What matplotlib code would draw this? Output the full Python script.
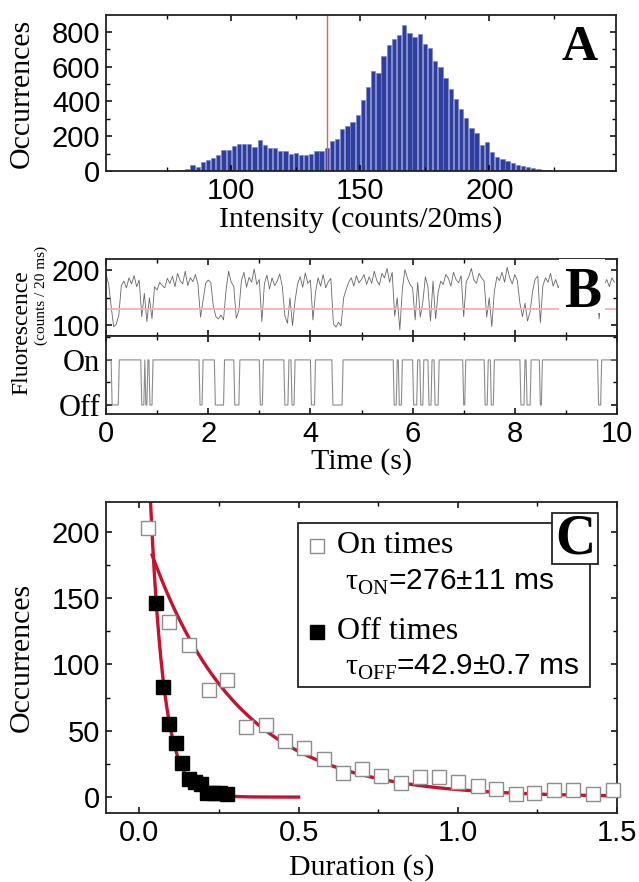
import matplotlib.pyplot as plt
import matplotlib.patches as mpatches
from matplotlib.ticker import MultipleLocator
import numpy as np

plt.rcParams['font.family'] = 'Liberation Sans'
plt.rcParams['font.size'] = 21
plt.rcParams['mathtext.fontset'] = 'custom'
plt.rcParams['mathtext.rm'] = 'Liberation Serif'
plt.rcParams['axes.linewidth'] = 1.3
plt.rcParams['axes.edgecolor'] = '#222222'
for ax_name in ['xtick', 'ytick']:
    plt.rcParams[ax_name + '.direction'] = 'in'
    plt.rcParams[ax_name + '.major.size'] = 4
    plt.rcParams[ax_name + '.minor.size'] = 3
    plt.rcParams[ax_name + '.major.width'] = 1.1
    plt.rcParams[ax_name + '.minor.width'] = 1.0
    plt.rcParams[ax_name + '.major.pad'] = 4
plt.rcParams['xtick.top'] = True
plt.rcParams['ytick.right'] = True

SERIF = 'Liberation Serif'

# A: intensity histogram, bins of 2 counts/20ms (left edges)
bin_left = np.arange(76, 224, 2)
counts = [2, 3, 6, 10, 33, 25, 52, 65, 77, 90,
          119, 119, 144, 157, 155, 153, 140, 176, 147, 134,
          130, 115, 115, 96, 103, 94, 92, 100, 115, 115,
          130, 171, 186, 240, 257, 280, 322, 408, 485, 577,
          561, 663, 724, 757, 782, 839, 795, 772, 787, 728,
          705, 634, 600, 533, 469, 412, 354, 303, 245, 220,
          149, 165, 111, 79, 71, 59, 44, 33, 29, 21,
          15, 10, 6, 3]
threshold_hist = 137

# B: fluorescence trace, one value every 50 ms
trace_step = 0.05
trace = [192, 176, 135, 98, 102, 118, 172, 180, 168, 186,
         175, 190, 170, 182, 116, 158, 107, 150, 112, 170,
         164, 178, 172, 168, 185, 176, 189, 170, 194, 181,
         175, 198, 172, 186, 179, 192, 174, 115, 145, 176,
         182, 178, 135, 116, 112, 119, 110, 165, 198, 178,
         171, 113, 127, 181, 196, 169, 187, 178, 202, 174,
         183, 107, 175, 191, 166, 186, 172, 180, 193, 170,
         118, 104, 150, 100, 145, 175, 188, 169, 195, 176,
         182, 110, 160, 186, 171, 192, 168, 179, 185, 103,
         97, 106, 99, 150, 165, 178, 186, 171, 190, 177,
         183, 192, 174, 188, 176, 198, 181, 173, 194, 186,
         203, 178, 196, 117, 150, 92, 166, 201, 185, 174,
         168, 110, 178, 115, 142, 188, 170, 108, 180, 112,
         160, 180, 174, 192, 185, 171, 196, 183, 177, 190,
         116, 179, 188, 203, 182, 176, 194, 186, 180, 115,
         150, 98, 162, 188, 181, 196, 178, 205, 186, 175,
         192, 181, 140, 116, 140, 108, 125, 163, 184, 189,
         105, 172, 186, 178, 194, 171, 183, 168, 178, 185,
         180, 188, 175, 190, 176, 184, 172, 185, 181, 177,
         186, 172, 179, 112, 168, 174, 183, 170, 186, 178]
threshold_trace = 130

# B: dark (off) periods in seconds
off_start = [0.12, 0.70, 0.78, 0.86, 1.84, 2.13, 2.52, 3.02, 3.50, 3.63,
             4.02, 4.44, 5.64, 5.74, 6.02, 6.15, 6.32, 6.43, 6.99, 7.42,
             7.54, 8.12, 8.23, 8.49, 9.63]
off_end = [0.25, 0.74, 0.81, 0.90, 1.90, 2.31, 2.60, 3.07, 3.57, 3.69,
           4.08, 4.63, 5.69, 5.79, 6.08, 6.21, 6.37, 6.50, 7.03, 7.47,
           7.60, 8.19, 8.30, 8.54, 9.68]

# C: on/off duration histograms
on_dur = [0.028, 0.093, 0.155, 0.217, 0.275, 0.336, 0.397, 0.456, 0.517, 0.579,
          0.640, 0.698, 0.760, 0.820, 0.881, 0.941, 1.001, 1.062, 1.121, 1.182,
          1.240, 1.302, 1.363, 1.424, 1.486]
on_occ = [203, 132, 115, 81, 88, 53, 54, 42, 37, 29,
          18, 21, 16, 10.5, 15, 15, 11, 8, 6, 2,
          3, 5, 5, 2, 5]
off_dur = [0.053, 0.074, 0.093, 0.114, 0.134, 0.155, 0.174, 0.194, 0.213, 0.233,
           0.254, 0.275]
off_occ = [146, 83, 55, 41, 26, 14, 11, 10, 3, 3, 3, 2]

# exponential fits
tau_on, amp_on = 0.276, 211
tau_off, amp_off = 0.0429, 502

W, H = 639, 882
fig = plt.figure(figsize=(W / 100, H / 100), dpi=100)


def box(left, top, right, bottom):
    return [left / W, 1 - bottom / H, (right - left) / W, (bottom - top) / H]


# ---------------- A ----------------
axA = fig.add_axes(box(106, 15, 616, 171))
axA.bar(bin_left + 1, counts, width=1.65, color='#2e3e9e', edgecolor='#7480c8', linewidth=0.4)
axA.axvline(threshold_hist, color='#e0606c', lw=1.0)
axA.set_xlim(51.5, 249)
axA.set_ylim(0, 897)
axA.xaxis.set_major_locator(MultipleLocator(50))
axA.xaxis.set_minor_locator(MultipleLocator(25))
axA.yaxis.set_major_locator(MultipleLocator(200))
axA.yaxis.set_minor_locator(MultipleLocator(100))
axA.set_xlabel('Intensity (counts/20ms)', family=SERIF, fontsize=21.5, va='center')
axA.xaxis.set_label_coords(0.5, -0.314)
axA.set_ylabel('Occurrences', family=SERIF, fontsize=21.5, va='center')
axA.yaxis.set_label_coords(-0.165, 0.5)
axA.text(0.929, 0.79, 'A', transform=axA.transAxes, ha='center', va='center',
         family=SERIF, fontweight='bold', fontsize=36)

# ---------------- B ----------------
axB1 = fig.add_axes(box(106, 259, 617, 336))
axB2 = fig.add_axes(box(106, 336, 617, 414), sharex=axB1)

t_trace = np.arange(len(trace)) * trace_step
axB1.plot(t_trace, trace, color='#666666', lw=0.6)
axB1.axhline(threshold_trace, color='#f4b0b0', lw=1.3)
axB1.set_ylim(81, 220)
axB1.yaxis.set_major_locator(MultipleLocator(100))
axB1.yaxis.set_minor_locator(MultipleLocator(50))
axB1.tick_params(labelbottom=False)
axB1.add_patch(mpatches.Rectangle((0.886, 0.30), 0.091, 0.70, transform=axB1.transAxes,
                                  facecolor='white', edgecolor='none', zorder=3))
axB1.text(0.932, 0.56, 'B', transform=axB1.transAxes, ha='center', va='center',
          family=SERIF, fontweight='bold', fontsize=40, zorder=4)

t_state = np.arange(0, 10.0001, 0.02)
state = np.ones_like(t_state)
for a, b in zip(off_start, off_end):
    state[(t_state >= a) & (t_state <= b)] = 0
axB2.plot(t_state, state, color='#8c8c8c', lw=0.8)
axB2.set_ylim(-0.2, 1.53)
axB2.set_yticks([0, 1])
axB2.set_yticklabels(['Off', 'On'], family=SERIF, fontsize=22)
axB2.yaxis.set_minor_locator(MultipleLocator(0.5))
axB2.set_xlim(0, 10)
axB2.xaxis.set_major_locator(MultipleLocator(2))
axB2.xaxis.set_minor_locator(MultipleLocator(1))
axB2.set_xlabel('Time (s)', family=SERIF, fontsize=21.5, va='center')
axB2.xaxis.set_label_coords(0.5, -0.615)

fig.text(22 / W, 1 - 333 / H, 'Fluorescence', rotation=90, ha='center', va='center',
         family=SERIF, fontsize=17)
fig.text(41 / W, 1 - 295 / H, '(counts / 20 ms)', rotation=90, ha='center', va='center',
         family=SERIF, fontsize=11)

# ---------------- C ----------------
axC = fig.add_axes(box(106, 502, 617, 813))
t_on = np.linspace(0.04, 1.5, 300)
t_off = np.linspace(0.03, 0.5, 300)
axC.plot(t_on, amp_on * np.exp(-t_on / tau_on), color='#c41230', lw=2.4, zorder=2)
axC.plot(t_off, amp_off * np.exp(-t_off / tau_off), color='#c41230', lw=2.4, zorder=2)
axC.plot(on_dur, on_occ, 's', ms=10, mfc='white', mec='#8c8c8c', mew=1.0, zorder=3, clip_on=False)
axC.plot(off_dur, off_occ, 's', ms=10, mfc='black', mec='black', zorder=3)
axC.set_xlim(-0.105, 1.5)
axC.set_ylim(-12, 222.5)
axC.xaxis.set_major_locator(MultipleLocator(0.5))
axC.xaxis.set_minor_locator(MultipleLocator(0.25))
axC.yaxis.set_major_locator(MultipleLocator(50))
axC.yaxis.set_minor_locator(MultipleLocator(25))
axC.set_xlabel('Duration (s)', family=SERIF, fontsize=21.5, va='center')
axC.xaxis.set_label_coords(0.5, -0.174)
axC.set_ylabel('Occurrences', family=SERIF, fontsize=21.5, va='center')
axC.yaxis.set_label_coords(-0.164, 0.5)

# legend box drawn by hand
axC.add_patch(mpatches.Rectangle((0.376, 0.405), 0.571, 0.527, transform=axC.transAxes,
                                 facecolor='white', edgecolor='#222222', lw=1.3, zorder=4))
axC.plot([0.413], [0.859], 's', ms=10.5, mfc='white', mec='#8c8c8c', mew=1.0,
         transform=axC.transAxes, zorder=5)
axC.plot([0.413], [0.582], 's', ms=10.5, mfc='black', mec='black',
         transform=axC.transAxes, zorder=5)
axC.text(0.452, 0.859, 'On times', transform=axC.transAxes, va='center',
         family=SERIF, fontsize=23, zorder=5)
axC.text(0.452, 0.582, 'Off times', transform=axC.transAxes, va='center',
         family=SERIF, fontsize=23, zorder=5)
axC.text(0.468, 0.740, r'$\mathrm{\tau}_{\mathrm{ON}}$=%d±11 ms' % round(tau_on * 1000),
         transform=axC.transAxes, va='center', fontsize=21.5, zorder=5)
axC.text(0.468, 0.469, r'$\mathrm{\tau}_{\mathrm{OFF}}$=%.1f±0.7 ms' % (tau_off * 1000),
         transform=axC.transAxes, va='center', fontsize=21.5, zorder=5)

axC.add_patch(mpatches.Rectangle((0.872, 0.80), 0.091, 0.164, transform=axC.transAxes,
                                 facecolor='white', edgecolor='#222222', lw=1.3, zorder=6))
axC.text(0.9175, 0.878, 'C', transform=axC.transAxes, ha='center', va='center',
         family=SERIF, fontweight='bold', fontsize=40, zorder=7)

fig.savefig('out.png', dpi=100)
